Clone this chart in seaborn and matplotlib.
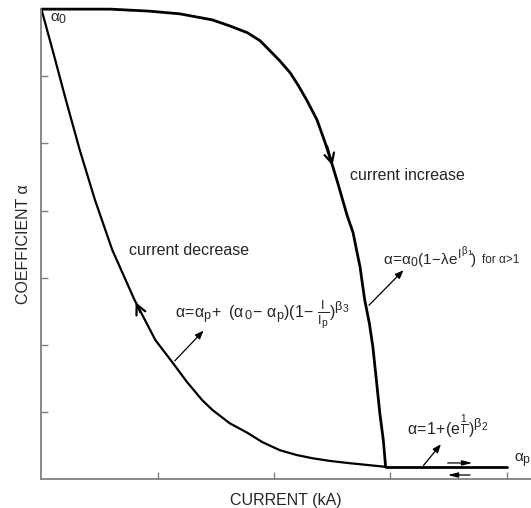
import matplotlib
matplotlib.use("Agg")
import matplotlib.pyplot as plt
import matplotlib._mathtext as _mt
import seaborn as sns
import pandas as pd

# ---- data (x and y in tick units) ----
inc_x = [0.00, 0.33, 0.59, 0.93, 1.19, 1.47, 1.62, 1.77, 1.88, 1.96, 2.05, 2.14, 2.21, 2.28, 2.37, 2.44,
         2.51, 2.55, 2.59, 2.63, 2.68, 2.71, 2.74, 2.76, 2.78, 2.82, 2.85, 2.88, 2.91, 2.94, 2.96]
inc_y = [7.00, 7.00, 7.00, 6.97, 6.93, 6.84, 6.75, 6.65, 6.53, 6.39, 6.23, 6.05, 5.86, 5.65, 5.35, 5.01,
         4.63, 4.40, 4.16, 3.92, 3.67, 3.41, 3.16, 2.91, 2.67, 2.32, 1.97, 1.48, 0.98, 0.58, 0.18]
dec_x = [0.00, 0.107, 0.21, 0.33, 0.46, 0.61, 0.80, 0.98, 1.13, 1.25, 1.38, 1.47, 1.62, 1.77, 1.90,
         2.05, 2.19, 2.33, 2.48, 2.63, 2.80, 2.97]
dec_y = [7.00, 6.32, 5.65, 4.90, 4.16, 3.41, 2.67, 2.07, 1.73, 1.45, 1.18, 1.03, 0.83, 0.69, 0.55,
         0.43, 0.36, 0.31, 0.27, 0.24, 0.21, 0.18]
sat_x = [2.96, 4.00]
sat_y = [0.18, 0.18]
x_ticks = [1, 2, 3, 4]
y_ticks = [1, 2, 3, 4, 5, 6]

sns.set_style("white")
plt.rcParams["font.family"] = ["Liberation Sans", "DejaVu Sans"]
plt.rcParams["mathtext.fontset"] = "custom"
plt.rcParams["mathtext.rm"] = "Liberation Sans"
plt.rcParams["mathtext.it"] = "Liberation Sans"
plt.rcParams["mathtext.bf"] = "Liberation Sans:bold"
_mt.SHRINK_FACTOR = 0.8

fig = plt.figure(figsize=(5.31, 5.08), dpi=100)
ax = fig.add_axes([0.078, 0.057, 0.922, 0.925])

inc = pd.DataFrame({"I": inc_x, "a": inc_y})
dec = pd.DataFrame({"I": dec_x, "a": dec_y})
sat = pd.DataFrame({"I": sat_x, "a": sat_y})
sns.lineplot(data=inc, x="I", y="a", sort=False, estimator=None, color="black", lw=2.0, ax=ax)
sns.lineplot(data=dec, x="I", y="a", sort=False, estimator=None, color="black", lw=1.6, ax=ax)
sns.lineplot(data=sat, x="I", y="a", sort=False, estimator=None, color="black", lw=2.0, ax=ax)
for l in ax.lines:
    l.set_clip_on(False)
    l.set_solid_joinstyle("round")

ax.set_xlim(0, 4.21)
ax.set_ylim(0, 7)
ax.set_xticks(x_ticks)
ax.set_yticks(y_ticks)
ax.set_xticklabels([])
ax.set_yticklabels([])
ax.tick_params(direction="in", length=5, width=1.0, color="#808080", left=True, bottom=True)
for s in ["top", "right"]:
    ax.spines[s].set_visible(False)
for s in ["left", "bottom"]:
    ax.spines[s].set_color("#808080")
    ax.spines[s].set_linewidth(1.3)

ax.set_xlabel("CURRENT (kA)", fontsize=11.5)
ax.xaxis.set_label_coords(0.5, -0.046)
ax.xaxis.label.set_va("center")
ax.set_ylabel("COEFFICIENT α", fontsize=11.5, labelpad=4)

# direction chevrons
chev = dict(arrowstyle="->,head_length=0.7,head_width=0.35", lw=1.6, color="black")
ax.annotate("", xy=(2.51, 4.63), xytext=(2.45, 5.0), arrowprops=chev)
ax.annotate("", xy=(0.80, 2.67), xytext=(0.86, 2.45), arrowprops=chev)

# formula pointers
ptr = dict(arrowstyle="-|>,head_length=0.5,head_width=0.2", lw=0.9, color="black")
ax.annotate("", xy=(1.41, 2.24), xytext=(1.13, 1.73), arrowprops=ptr)
ax.annotate("", xy=(3.13, 3.14), xytext=(2.80, 2.56), arrowprops=ptr)
ax.annotate("", xy=(3.45, 0.55), xytext=(3.27, 0.17), arrowprops=ptr)

# small arrows on saturation line
sm = dict(arrowstyle="-|>,head_length=0.6,head_width=0.15", lw=0.9, color="black")
ax.annotate("", xy=(3.73, 0.24), xytext=(3.47, 0.24), arrowprops=sm)
ax.annotate("", xy=(3.47, 0.06), xytext=(3.71, 0.06), arrowprops=sm)

ax.text(0.07, 6.85, r"$\alpha_0$", fontsize=11, va="center", ha="left")
ax.text(4.06, 0.28, r"$\alpha_p$", fontsize=11, va="center", ha="left")
ax.text(2.65, 4.52, "current increase", fontsize=11.5, va="center", ha="left")
ax.text(0.75, 3.40, "current decrease", fontsize=11.5, va="center", ha="left")
ax.text(1.15, 2.45, r"$\alpha\!=\!\alpha_p\!+\ (\alpha_{\,0}\!-\,\alpha_p)(1\!-\,\frac{I}{I_p})^{\beta_3}$",
        fontsize=11.5, va="center", ha="left")
ax.text(2.94, 3.30, r"$\alpha\!=\!\alpha_0(1\!-\!\lambda e^{I^{\beta_1}}\!)$", fontsize=11, va="center", ha="left")
ax.text(3.79, 3.27, "for α>1", fontsize=8.5, va="center", ha="left")
ax.text(3.14, 0.78, r"$\alpha\!=\!1\!+\!(e^{\frac{1}{I}})^{\beta_2}$", fontsize=11.5, va="center", ha="left")

fig.savefig("out.png", dpi=100)
